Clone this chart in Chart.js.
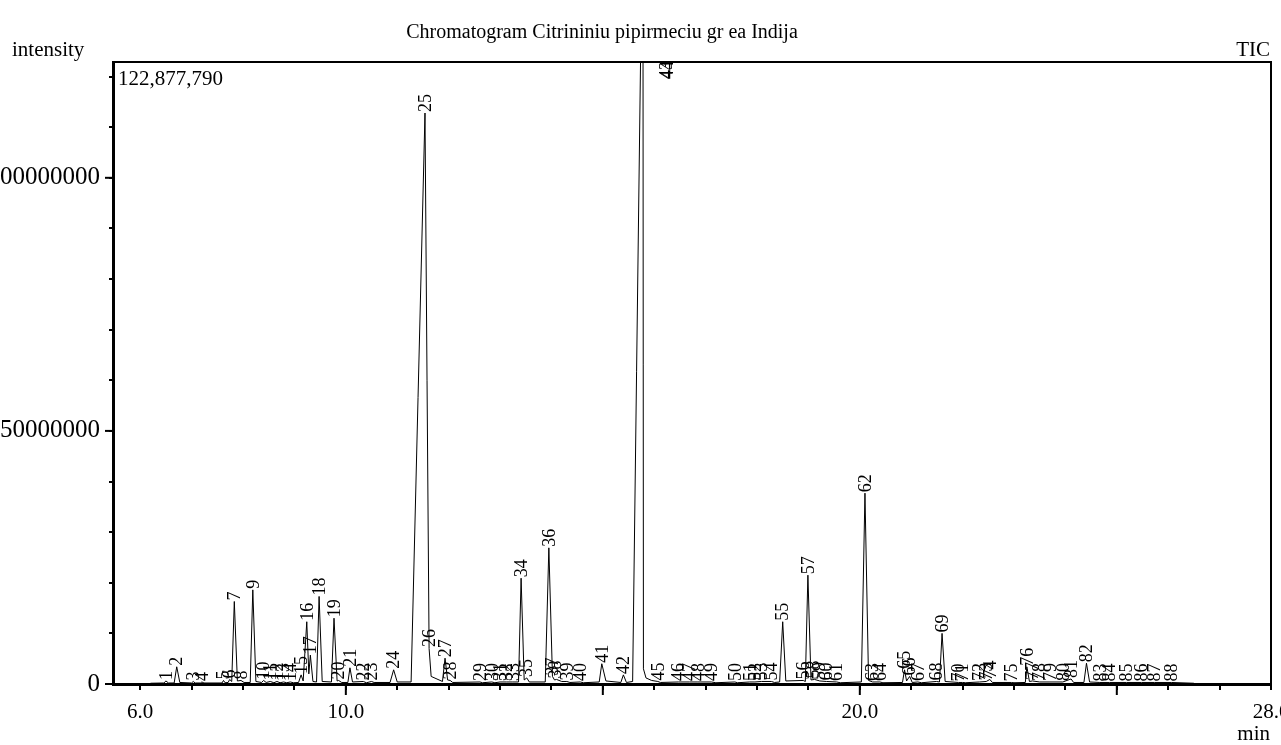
<!DOCTYPE html>
<html>
<head>
<meta charset="utf-8">
<script src="https://cdn.jsdelivr.net/npm/chart.js@4.4.1/dist/chart.umd.min.js"></script>
<style>
  html, body { margin: 0; padding: 0; background: #fff; overflow: hidden; }
  #wrap { position: absolute; left: 0; top: 0; width: 1310px; height: 745px; }
</style>
</head>
<body>
<div id="wrap"><canvas id="tic" width="1310" height="745"></canvas></div>
<script>
// trace of the chromatogram: retention time (min) and intensity
const rt = [6.20, 6.46, 6.50, 6.55, 6.66, 6.71, 6.77, 7.00, 7.03, 7.07, 7.17, 7.20, 7.24,
  7.59, 7.62, 7.65, 7.71, 7.74, 7.78, 7.83, 7.89, 7.96, 8.02, 8.14, 8.19, 8.25,
  8.36, 8.40, 8.45, 8.53, 8.60, 8.66, 8.72, 8.79, 8.85, 8.92, 8.98,
  9.08, 9.13, 9.17, 9.24, 9.28, 9.31, 9.36, 9.43, 9.48, 9.54, 9.72, 9.77, 9.83, 9.86, 9.92,
  10.04, 10.08, 10.13, 10.34, 10.40, 10.50, 10.55, 10.86, 10.93, 11.00,
  11.27, 11.54, 11.62, 11.66, 11.88, 11.93, 11.98, 12.03, 12.08,
  12.61, 12.66, 12.84, 12.90, 13.00, 13.12, 13.25, 13.36, 13.41, 13.47, 13.52, 13.57,
  13.88, 13.95, 14.02, 14.06, 14.10, 14.20, 14.30, 14.36, 14.56, 14.62,
  14.93, 14.98, 15.06, 15.35, 15.40, 15.46, 15.58, 15.78, 15.79, 15.84, 15.95, 16.07, 16.12,
  16.47, 16.69, 16.85, 17.11, 17.20, 17.57, 17.62, 17.86, 17.96, 18.09, 18.28, 18.34,
  18.44, 18.50, 18.56, 18.90, 18.94, 18.99, 19.05, 19.12, 19.22, 19.35, 19.55, 19.62,
  20.03, 20.10, 20.17, 20.25, 20.39, 20.45, 20.83, 20.87, 20.91, 20.97, 21.02, 21.13, 21.20,
  21.49, 21.55, 21.60, 21.66, 21.92, 22.00, 22.06, 22.33, 22.46, 22.53, 22.58, 22.95, 23.00,
  23.22, 23.25, 23.30, 23.36, 23.50, 23.70, 23.95, 24.11, 24.16,
  24.36, 24.41, 24.47, 24.67, 24.86, 25.19, 25.48, 25.73, 26.06, 26.50];
const intensity = [150000, 200000, 600000, 200000, 200000, 3400000, 300000, 200000, 500000, 200000, 200000, 400000, 200000,
  200000, 700000, 250000, 300000, 900000, 500000, 16300000, 600000, 700000, 300000, 300000, 18600000, 500000,
  300000, 700000, 300000, 500000, 250000, 500000, 250000, 400000, 250000, 400000, 250000,
  300000, 1800000, 600000, 12300000, 2000000, 5700000, 500000, 400000, 17300000, 500000, 400000, 13000000, 600000, 700000, 300000,
  300000, 3200000, 400000, 500000, 250000, 500000, 300000, 300000, 2800000, 400000,
  400000, 112800000, 7000000, 1500000, 500000, 5100000, 800000, 700000, 300000,
  400000, 250000, 400000, 250000, 400000, 400000, 400000, 400000, 20900000, 800000, 1200000, 400000,
  400000, 26900000, 1500000, 800000, 900000, 500000, 500000, 300000, 400000, 250000,
  400000, 4000000, 600000, 300000, 1800000, 300000, 500000, 160000000, 3000000, 1200000, 700000, 500000, 300000,
  400000, 400000, 400000, 400000, 250000, 400000, 250000, 400000, 400000, 500000, 500000, 300000,
  400000, 12300000, 600000, 700000, 500000, 21500000, 800000, 900000, 600000, 500000, 400000, 250000,
  400000, 37700000, 700000, 400000, 400000, 250000, 300000, 2800000, 600000, 1500000, 300000, 400000, 250000,
  500000, 400000, 10000000, 500000, 300000, 300000, 250000, 400000, 500000, 900000, 300000, 300000, 250000,
  300000, 3400000, 500000, 600000, 400000, 400000, 400000, 1000000, 300000,
  300000, 4100000, 400000, 300000, 300000, 300000, 300000, 300000, 300000, 150000];

// peak numbers, label position (min) and label height
const peakNo = [1, 2, 3, 4, 5, 6, 7, 8, 9, 10, 11, 12, 13, 14, 15, 16, 17, 18, 19, 20,
  21, 22, 23, 24, 25, 26, 27, 28, 29, 30, 31, 32, 33, 34, 35, 36, 37, 38, 39, 40,
  41, 42, 43, 44, 45, 46, 47, 48, 49, 50, 51, 52, 53, 54, 55, 56, 57, 58, 59, 60,
  61, 62, 63, 64, 65, 66, 67, 68, 69, 70, 71, 72, 73, 74, 75, 76, 77, 78, 79, 80,
  81, 82, 83, 84, 85, 86, 87, 88];
const peakTime = [6.50, 6.71, 7.03, 7.20, 7.62, 7.74, 7.83, 7.96, 8.19, 8.40, 8.53, 8.66, 8.79, 8.92, 9.13, 9.24, 9.31, 9.48, 9.77, 9.86,
  10.08, 10.34, 10.50, 10.93, 11.54, 11.62, 11.93, 12.03, 12.61, 12.84, 13.00, 13.12, 13.25, 13.41, 13.52, 13.95, 14.02, 14.08, 14.30, 14.56,
  14.98, 15.40, 16.24, 16.25, 16.07, 16.47, 16.69, 16.85, 17.11, 17.57, 17.86, 17.96, 18.09, 18.28, 18.50, 18.90, 18.99, 19.09, 19.22, 19.35,
  19.55, 20.10, 20.25, 20.39, 20.87, 20.97, 21.13, 21.49, 21.60, 21.92, 22.00, 22.33, 22.46, 22.53, 22.95, 23.25, 23.36, 23.50, 23.70, 23.95,
  24.11, 24.41, 24.67, 24.86, 25.19, 25.48, 25.73, 26.06];
const peakTop = [600000, 3400000, 500000, 400000, 700000, 900000, 16300000, 700000, 18600000, 700000, 500000, 500000, 400000, 400000, 1800000, 12300000, 5700000, 17300000, 13000000, 700000,
  3200000, 500000, 500000, 2800000, 112800000, 7100000, 5100000, 700000, 400000, 400000, 400000, 400000, 400000, 20900000, 1200000, 26900000, 1500000, 900000, 500000, 400000,
  4000000, 1800000, 160000000, 160000000, 500000, 400000, 400000, 400000, 400000, 400000, 400000, 400000, 500000, 500000, 12300000, 700000, 21500000, 900000, 600000, 500000,
  400000, 37700000, 400000, 400000, 2800000, 1500000, 400000, 500000, 10000000, 300000, 300000, 400000, 500000, 900000, 300000, 3400000, 600000, 400000, 400000, 400000,
  1000000, 4100000, 300000, 300000, 300000, 300000, 300000, 300000];

const xTicks = [6, 7, 8, 9, 10, 11, 12, 13, 14, 15, 16, 17, 18, 19, 20, 21, 22, 23, 24, 25, 26, 27, 28];
const xLabelled = [6, 10, 20, 28];
const xMajor = [10, 15, 20, 25];
const yTicks = [0, 10000000, 20000000, 30000000, 40000000, 50000000, 60000000,
  70000000, 80000000, 90000000, 100000000, 110000000, 120000000];
const yLabelled = [0, 50000000, 100000000];
const yMax = 122877790;

const serif = '"Liberation Serif", "Times New Roman", serif';

const framePlugin = {
  id: 'frame',
  afterDatasetsDraw(chart) {
    const { ctx, chartArea: a, scales } = chart;
    ctx.save();
    // peak numbers, rotated
    ctx.beginPath();
    ctx.rect(a.left, a.top, a.right - a.left, a.bottom - a.top + 2);
    ctx.clip();
    ctx.fillStyle = '#000';
    ctx.font = '18px ' + serif;
    ctx.textAlign = 'left';
    ctx.textBaseline = 'middle';
    peakNo.forEach((n, i) => {
      const x = scales.x.getPixelForValue(peakTime[i]);
      let y = scales.y.getPixelForValue(peakTop[i]);
      y = Math.max(y, a.top + 18);
      ctx.save();
      ctx.translate(x + 1, Math.min(y - 1, a.bottom - 1));
      ctx.rotate(-Math.PI / 2);
      ctx.fillText(String(n), 0, 0);
      ctx.restore();
    });
    ctx.restore();
  },
  afterDraw(chart) {
    const { ctx, chartArea: a, scales } = chart;
    ctx.save();
    ctx.strokeStyle = '#000';
    ctx.lineWidth = 2;
    ctx.beginPath();
    ctx.moveTo(a.left, a.top);
    ctx.lineTo(a.right, a.top);
    ctx.lineTo(a.right, a.bottom);
    ctx.stroke();
    // longer ticks
    xMajor.forEach(v => {
      const x = scales.x.getPixelForValue(v);
      ctx.beginPath();
      ctx.moveTo(x, a.bottom);
      ctx.lineTo(x, a.bottom + 11);
      ctx.stroke();
    });
    yLabelled.forEach(v => {
      const y = scales.y.getPixelForValue(v);
      ctx.beginPath();
      ctx.moveTo(a.left, y);
      ctx.lineTo(a.left - 8, y);
      ctx.stroke();
    });
    // texts
    ctx.fillStyle = '#000';
    ctx.textBaseline = 'alphabetic';
    ctx.font = '20px ' + serif;
    ctx.textAlign = 'center';
    ctx.fillText('Chromatogram Citrininiu pipirmeciu gr ea Indija', 602, 38);
    ctx.textAlign = 'left';
    ctx.font = '21px ' + serif;
    ctx.fillText('intensity', 12, 56);
    ctx.fillText('122,877,790', 118, 85);
    ctx.textAlign = 'right';
    ctx.fillText('TIC', 1270, 56);
    ctx.fillText('min', 1270, 740);
    ctx.restore();
  }
};

const points = rt.map((t, i) => ({ x: t, y: intensity[i] }));

new Chart(document.getElementById('tic'), {
  type: 'line',
  data: {
    datasets: [{
      data: points,
      borderColor: '#000',
      borderWidth: 1,
      pointRadius: 0,
      tension: 0,
      fill: false
    }]
  },
  options: {
    responsive: false,
    animation: false,
    devicePixelRatio: 1,
    layout: { padding: { top: 62, right: 39, left: 0, bottom: 0 } },
    plugins: { legend: { display: false }, tooltip: { enabled: false }, title: { display: false } },
    scales: {
      x: {
        type: 'linear',
        min: 5.47,
        max: 28,
        afterBuildTicks: s => { s.ticks = xTicks.map(v => ({ value: v })); },
        afterFit: s => { s.height = 61; },
        border: { display: true, color: '#000', width: 3 },
        grid: { drawOnChartArea: false, drawTicks: true, tickLength: 6, color: '#000', lineWidth: 2 },
        ticks: {
          autoSkip: false,
          maxRotation: 0,
          padding: 10,
          color: '#000',
          font: { family: serif, size: 21 },
          callback: v => xLabelled.includes(v) ? v.toFixed(1) : ''
        }
      },
      y: {
        min: 0,
        max: yMax,
        afterBuildTicks: s => { s.ticks = yTicks.map(v => ({ value: v })); },
        afterFit: s => { s.width = 113; },
        border: { display: true, color: '#000', width: 3 },
        grid: { drawOnChartArea: false, drawTicks: true, tickLength: 4, color: '#000', lineWidth: 2 },
        ticks: {
          autoSkip: false,
          padding: 9,
          color: '#000',
          font: { family: serif, size: 25 },
          callback: v => yLabelled.includes(v) ? String(v) : ''
        }
      }
    }
  },
  plugins: [framePlugin]
});
</script>
</body>
</html>
